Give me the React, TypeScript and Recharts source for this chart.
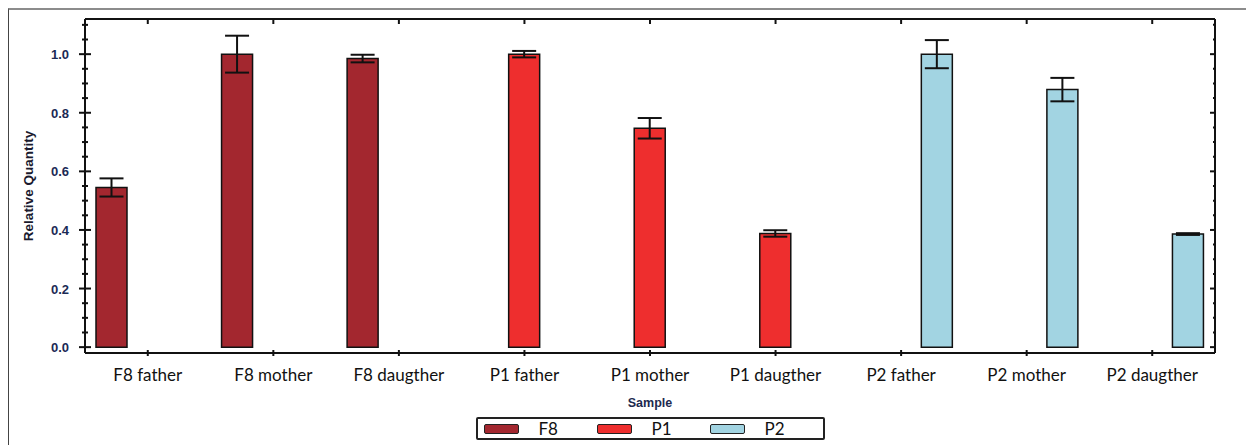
import React from 'react'
import { ComposedChart, Bar, XAxis, YAxis, ErrorBar, Legend, Label } from 'recharts'

const samples = [
  'F8 father', 'F8 mother', 'F8 daugther',
  'P1 father', 'P1 mother', 'P1 daugther',
  'P2 father', 'P2 mother', 'P2 daugther',
]

const f8Values = [0.545, 1.0, 0.985, null, null, null, null, null, null]
const f8Errors = [0.031, 0.063, 0.013, null, null, null, null, null, null]
const p1Values = [null, null, null, 1.0, 0.747, 0.388, null, null, null]
const p1Errors = [null, null, null, 0.011, 0.035, 0.011, null, null, null]
const p2Values = [null, null, null, null, null, null, 1.0, 0.879, 0.386]
const p2Errors = [null, null, null, null, null, null, 0.048, 0.04, 0.003]

const yTicks = [
  0, 0.05, 0.1, 0.15, 0.2, 0.25, 0.3, 0.35, 0.4, 0.45, 0.5, 0.55,
  0.6, 0.65, 0.7, 0.75, 0.8, 0.85, 0.9, 0.95, 1.0, 1.05, 1.1,
]
const yLabelTicks = [0, 0.2, 0.4, 0.6, 0.8, 1.0]

const series = [
  { key: 'F8', err: 'F8err', color: '#a3272f' },
  { key: 'P1', err: 'P1err', color: '#ee2e2e' },
  { key: 'P2', err: 'P2err', color: '#a2d4e2' },
]

const data = samples.map((sample, i) => ({
  sample,
  F8: f8Values[i],
  F8err: f8Errors[i],
  P1: p1Values[i],
  P1err: p1Errors[i],
  P2: p2Values[i],
  P2err: p2Errors[i],
}))

const isMajor = (v: number) => yLabelTicks.some((t) => Math.abs(t - v) < 1e-6)

const LeftTick = ({ x, y, payload }: any) => {
  const major = isMajor(payload.value)
  const len = major ? 6 : 3
  return (
    <g>
      <line x1={x - len} x2={x + len} y1={y} y2={y} stroke="#111" strokeWidth={2} />
      {major && (
        <text x={x - 16} y={y} dy={5} textAnchor="end" fill="#1b2a55" fontSize={13} fontWeight="bold" fontFamily="Liberation Sans, Arial, sans-serif">
          {payload.value.toFixed(1)}
        </text>
      )}
    </g>
  )
}

const RightTick = ({ x, y, payload }: any) => {
  const len = isMajor(payload.value) ? 5 : 2
  return <line x1={x - len} x2={x} y1={y} y2={y} stroke="#111" strokeWidth={2} />
}

const TopTick = ({ x, y }: any) => <line x1={x} x2={x} y1={y} y2={y + 5} stroke="#111" strokeWidth={2} />

const BottomTick = ({ x, y, payload }: any) => (
  <g>
    <line x1={x} x2={x} y1={y - 3} y2={y + 3} stroke="#111" strokeWidth={2} />
    <text x={x} y={y} dy={28} textAnchor="middle" fill="#111" fontSize={17} fontFamily="Lato, sans-serif">
      {payload.value}
    </text>
  </g>
)

const LegendBox = () => (
  <div style={{ display: 'flex', justifyContent: 'center' }}>
    <div
      style={{
        width: 339,
        height: 19,
        border: '2px solid #222',
        borderRadius: 2,
        background: '#fff',
        display: 'flex',
        alignItems: 'center',
        paddingLeft: 6,
        boxSizing: 'content-box',
      }}
    >
      {series.map((s) => (
        <div key={s.key} style={{ display: 'flex', alignItems: 'center', width: 114.5 }}>
          <div style={{ width: 33, height: 8, background: s.color, border: '1.5px solid #222', borderRadius: 2, marginRight: 20 }} />
          <span style={{ fontFamily: 'Lato, sans-serif', fontSize: 17, color: '#111', lineHeight: '19px' }}>{s.key}</span>
        </div>
      ))}
    </div>
  </div>
)

export default function App() {
  return (
    <div style={{ width: 1246, height: 437, borderTop: '2px solid #8c8c8c', borderLeft: '1px solid #444', boxSizing: 'border-box', background: '#fff' }}>
      <ComposedChart
        width={1244}
        height={435}
        data={data}
        margin={{ top: 0, right: 0, bottom: 5, left: 0 }}
        barSize={31}
        barGap={5}
      >
        <XAxis
          dataKey="sample"
          xAxisId={0}
          height={64}
          tickSize={0}
          tickMargin={0}
          tick={<BottomTick />}
          axisLine={{ stroke: '#111', strokeWidth: 2 }}
          interval={0}
        >
          <Label
            content={({ viewBox }: any) => (
              <text x={viewBox.x + viewBox.width / 2} y={viewBox.y + 54} textAnchor="middle" fill="#1c2a4f" fontSize={12.5} fontWeight="bold" fontFamily="Liberation Sans, Arial, sans-serif">
                Sample
              </text>
            )}
          />
        </XAxis>
        <XAxis
          dataKey="sample"
          xAxisId="top"
          orientation="top"
          height={9}
          tickSize={0}
          tickMargin={0}
          tick={<TopTick />}
          axisLine={{ stroke: '#111', strokeWidth: 2 }}
          interval={0}
        />
        <YAxis
          yAxisId={0}
          width={76}
          type="number"
          domain={[-0.02, 1.12]}
          allowDataOverflow
          ticks={yTicks}
          interval={0}
          tickSize={0}
          tickMargin={0}
          tick={<LeftTick />}
          axisLine={{ stroke: '#111', strokeWidth: 2 }}
        >
          <Label
            content={({ viewBox }: any) => {
              const cx = 20
              const cy = viewBox.y + viewBox.height / 2
              return (
                <text x={cx} y={cy} transform={`rotate(-90 ${cx} ${cy})`} dy={4} textAnchor="middle" fill="#1a1a2e" fontSize={13.5} fontWeight="bold" fontFamily="Liberation Sans, Arial, sans-serif">
                  Relative Quantity
                </text>
              )
            }}
          />
        </YAxis>
        <YAxis
          yAxisId="r"
          orientation="right"
          width={38}
          type="number"
          domain={[-0.02, 1.12]}
          allowDataOverflow
          ticks={yTicks}
          interval={0}
          tickSize={0}
          tickMargin={0}
          tick={<RightTick />}
          axisLine={{ stroke: '#111', strokeWidth: 2 }}
        />
        <Legend verticalAlign="bottom" wrapperStyle={{ left: 76, width: 1130 }} content={<LegendBox />} />
        {series.map((s) => (
          <Bar key={s.key} dataKey={s.key} xAxisId={0} yAxisId={0} fill={s.color} stroke="#111" strokeWidth={1.5} isAnimationActive={false}>
            <ErrorBar dataKey={s.err} width={12} stroke="#111" strokeWidth={2} />
          </Bar>
        ))}
      </ComposedChart>
    </div>
  )
}
